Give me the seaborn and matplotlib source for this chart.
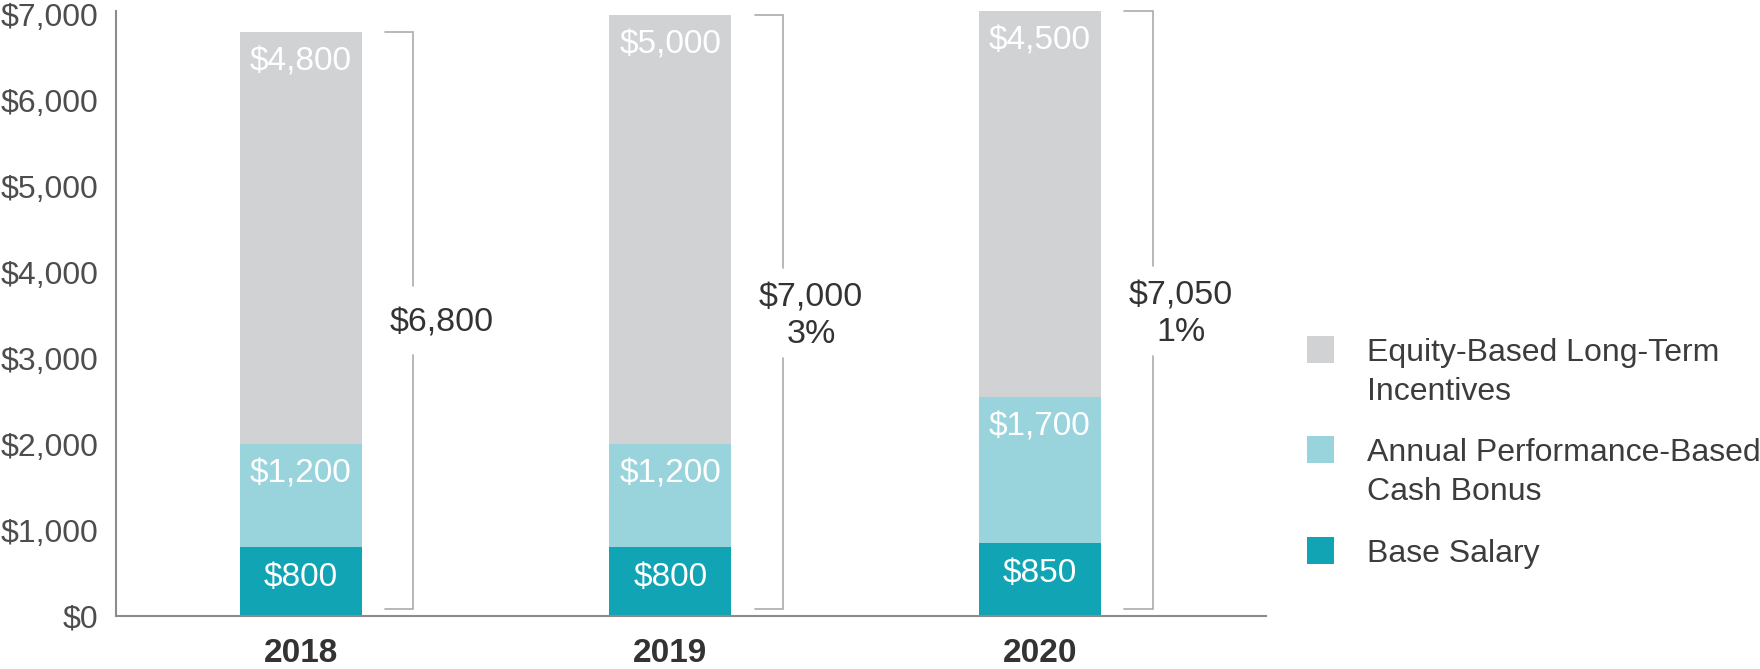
import matplotlib
matplotlib.use("Agg")
import matplotlib.pyplot as plt
from matplotlib.patches import Rectangle
from matplotlib.ticker import FixedLocator, StrMethodFormatter
import pandas as pd
import seaborn as sns

# ---------------- data ----------------
years = ["2018", "2019", "2020"]
base_salary = [800, 800, 850]
cash_bonus = [1200, 1200, 1700]
equity_lti = [4800, 5000, 4500]
totals = [6800, 7000, 7050]
change_pct = ["", "3%", "1%"]
legend_labels = ["Equity-Based Long-Term\nIncentives",
                 "Annual Performance-Based\nCash Bonus",
                 "Base Salary"]
y_ticks = [0, 1000, 2000, 3000, 4000, 5000, 6000, 7000]

# ---------------- style ----------------
sns.set_theme(style="white")
plt.rcParams['font.family'] = ['Liberation Sans', 'DejaVu Sans']

C_BASE = "#10a4b4"
C_BONUS = "#99d3db"
C_EQ = "#d1d2d4"
C_AXIS = "#8c8c8c"
C_BRACKET = "#a9abae"

W, H = 1760, 669
Y_TOP = 7050
AX_H = 605.3
fig = plt.figure(figsize=(W / 100, H / 100), dpi=100)
ax = fig.add_axes([115.6 / W, 53 / H, 1150.4 / W, AX_H / H])

df = pd.DataFrame({"year": years, "base": base_salary,
                   "bonus": cash_bonus, "equity": equity_lti})
df["lvl2"] = df["base"] + df["bonus"]
df["lvl3"] = df["lvl2"] + df["equity"]

bw = 0.329
for col, c in [("lvl3", C_EQ), ("lvl2", C_BONUS), ("base", C_BASE)]:
    sns.barplot(data=df, x="year", y=col, color=c, width=bw, saturation=1,
                linewidth=0, edgecolor="none", errorbar=None, ax=ax)

ax.set_xlim(-0.501, 2.612)
ax.set_ylim(0, Y_TOP)
ax.set_xlabel("")
ax.set_ylabel("")

px_per_unit = AX_H / Y_TOP

# segment labels
for i in range(len(years)):
    segs = [(df["base"][i], base_salary[i]),
            (df["lvl2"][i], cash_bonus[i]),
            (df["lvl3"][i], equity_lti[i])]
    for top, val in segs:
        ax.text(i, top - 30 / px_per_unit, f"${val:,}", ha="center", va="center",
                color="white", fontsize=24)

# brackets with totals
for i in range(len(years)):
    x_line = i + 0.305
    x_tick = i + 0.228
    top = totals[i]
    bottom = 85
    label = f"${totals[i]:,}" + (f"\n{change_pct[i]}" if change_pct[i] else "")
    two = "\n" in label
    cy = totals[i] / 2 + 50
    up = (43 if two else 34) / px_per_unit
    dn = (47 if two else 35) / px_per_unit
    ax.plot([x_tick, x_line, x_line], [top, top, cy + up], color=C_BRACKET,
            lw=1.2, solid_joinstyle="miter", clip_on=False)
    ax.plot([x_line, x_line, x_tick], [cy - dn, bottom, bottom], color=C_BRACKET,
            lw=1.2, solid_joinstyle="miter", clip_on=False)
    ax.text(i + 0.381, cy - (5 if two else 3) / px_per_unit, label, ha="center",
            va="center", color="#333333", fontsize=24.5, linespacing=1.22)

# axes styling
sns.despine(ax=ax)
for s in ["left", "bottom"]:
    ax.spines[s].set_color(C_AXIS)
    ax.spines[s].set_linewidth(1.5)
ax.yaxis.set_major_locator(FixedLocator(y_ticks))
ax.yaxis.set_major_formatter(StrMethodFormatter("${x:,.0f}"))
ax.tick_params(axis="y", length=0, pad=12.5, labelsize=23, labelcolor="#4d4d4d")
ax.tick_params(axis="x", length=0, pad=16, labelsize=24, labelcolor="#333333")
for t in ax.get_xticklabels():
    t.set_fontweight("bold")

# manual legend
colors = [C_EQ, C_BONUS, C_BASE]
centers = [349, 449, 550]
for lab, c, cyp in zip(legend_labels, colors, centers):
    fig.patches.append(Rectangle((1307 / W, 1 - (cyp + 13.5) / H), 27 / W, 27 / H,
                                 transform=fig.transFigure, facecolor=c,
                                 edgecolor="none"))
    for k, line in enumerate(lab.split("\n")):
        fig.text(1367 / W, 1 - (cyp + 12 + 39 * k) / H, line, ha="left",
                 va="baseline", fontsize=23, color="#3c3c3c")

fig.savefig("out.png", dpi=100)
